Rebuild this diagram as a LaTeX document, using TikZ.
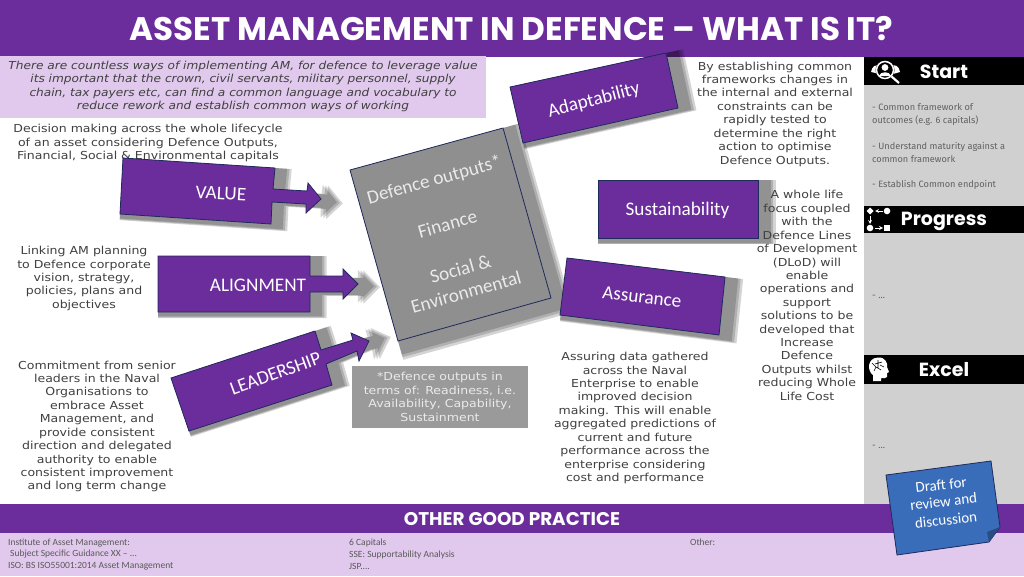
\documentclass[tikz,border=0pt]{standalone}
\usepackage{fontspec}
\setmainfont{DejaVu Sans}[FakeStretch=1.14]
\newfontfamily\handit{DejaVu Sans}[FakeStretch=1.105]
\newfontfamily\labelfont{Carlito}
\newfontfamily\headfont{Poppins}
\newfontfamily\sidefont{Fira Sans}
\usetikzlibrary{calc}
\definecolor{purp}{HTML}{6B2D9C}
\definecolor{lilac}{HTML}{E0C9EC}
\definecolor{panel}{HTML}{D0D0D0}
\definecolor{edge}{HTML}{1F2A5C}
\definecolor{hand}{HTML}{404040}
\definecolor{greybox}{HTML}{8F8F8F}
\definecolor{notebox}{HTML}{9A9A9A}
\definecolor{soft}{HTML}{EAEAEA}
\definecolor{draft}{HTML}{3A6DB9}
\tikzset{
  handtext/.style={text=hand,align=center,inner sep=0pt,font=\fontsize{11}{13.42}\selectfont},
  shapebox/.style={fill=purp,draw=edge,line width=0.8pt,line join=miter},
  greyshape/.style={fill=greybox,draw=edge,line width=0.8pt},
  biglabel/.style={text=white,inner sep=0pt,font=\labelfont\fontsize{19.2}{22}\selectfont},
  greylabel/.style={text=soft,inner sep=0pt,font=\labelfont\fontsize{19.2}{23}\selectfont},
  sidehead/.style={text=white,inner sep=0pt,font=\headfont\bfseries\fontsize{19}{21}\selectfont},
  sidetext/.style={text=black!62,inner sep=0pt,anchor=base west,font=\sidefont\fontsize{9.2}{12}\selectfont},
  foot/.style={text=black!65,inner sep=0pt,anchor=west,font=\labelfont\fontsize{9.5}{11}\selectfont},
  shadowfill/.style={fill=black,opacity=.17,draw=none},
  icon/.style={fill=white,draw=none},
  iconline/.style={draw=white,line width=1.2pt},
}
% soft shadow: the shape enlarged from its own top-left point
\newcommand{\softshadow}[3]{%
  \foreach \k in {1.08,1.095,1.11}{%
    \begin{scope}[shift={(#1,#2)},scale=\k,shift={(-#1,-#2)}]
      \fill[shadowfill] #3;
    \end{scope}}}
\def\valuepath{(123,158) -- (275,168) -- (273,189) -- (307,191) -- (308,183) -- (321,199) -- (306,213) -- (306,204) -- (272,202) -- (271,224) -- (120,214) -- cycle}
\def\alignpath{(158,256) -- (310,256) -- (310,276) -- (343,276) -- (343,269) -- (358,284) -- (343,299) -- (343,292) -- (310,292) -- (310,312) -- (158,312) -- cycle}
\def\leadpath{(171,378) -- (315,331) -- (321,350) -- (353,340) -- (351,333) -- (369,341) -- (359,361) -- (357,351) -- (326,364) -- (332,385) -- (189,431) -- cycle}
\def\outpath{(350,170) -- (503,128) -- (551,298) -- (398,341) -- cycle}
\def\adaptpath{(510,87) -- (666,53) -- (678,108) -- (523,143) -- cycle}
\def\sustpath{(598,180) -- (758,180) -- (758,238) -- (598,238) -- cycle}
\def\assurepath{(567,258) -- (725,277) -- (719,335) -- (560,315) -- cycle}
\begin{document}
\begin{tikzpicture}[x=1pt,y=-1pt]
\useasboundingbox (0,0) rectangle (1024,576);
\fill[white] (0,0) rectangle (1024,576);
% bands and panels
\fill[panel] (864,56) rectangle (1024,504);
\fill[purp] (0,0) rectangle (1024,56.5);
\fill[lilac] (0,56) rectangle (486,118);
\fill[purp] (0,504) rectangle (1024,533);
\fill[lilac] (0,533) rectangle (1024,576);
\fill[black] (864,57) rectangle (1024,85);
\fill[black] (864,206) rectangle (1024,233);
\fill[black] (864,355) rectangle (1024,384);
% title
\node[text=white,inner sep=0pt,font=\headfont\bfseries\fontsize{32.6}{34}\selectfont] (title) at (511.5,28.5) {ASSET MANAGEMENT IN DEFENCE – WHAT IS IT?};
\node[text=white,inner sep=0pt,font=\headfont\bfseries\fontsize{18.4}{20}\selectfont] (other) at (512,519.5) {OTHER GOOD PRACTICE};
% texts under the shapes
\node[handtext,font=\handit\itshape\fontsize{11}{13.42}\selectfont] (intro) at (243,86.5) {There are countless ways of implementing AM, for defence to leverage value\\its important that the crown, civil servants, military personnel, supply\\chain, tax payers etc, can find a common language and vocabulary to\\reduce rework and establish common ways of working};
\node[handtext] (decision) at (148,143) {Decision making across the whole lifecycle\\of an asset considering Defence Outputs,\\Financial, Social \& Environmental capitals};
\node[handtext] (linking) at (84,278.5) {Linking AM planning\\to Defence corporate\\vision, strategy,\\policies, plans and\\objectives};
\node[handtext] (commit) at (97,426.5) {Commitment from senior\\leaders in the Naval\\Organisations to\\embrace Asset\\Management, and\\provide consistent\\direction and delegated\\authority to enable\\consistent improvement\\and long term change};
\node[handtext] (frameworks) at (775,114) {By establishing common\\frameworks changes in\\the internal and external\\constraints can be\\rapidly tested to\\determine the right\\action to optimise\\Defence Outputs.};
\node[handtext] (assuring) at (635,418) {Assuring data gathered\\across the Naval\\Enterprise to enable\\improved decision\\making. This will enable\\aggregated predictions of\\current and future\\performance across the\\enterprise considering\\cost and performance};
% shadows and shapes
\softshadow{123}{158}{\valuepath}
\softshadow{158}{256}{\alignpath}
\softshadow{171}{378}{\leadpath}
\softshadow{350}{170}{\outpath}
\softshadow{510}{87}{\adaptpath}
\softshadow{598}{180}{\sustpath}
\softshadow{560}{258}{\assurepath}
\draw[shapebox] \valuepath;
\draw[shapebox] \alignpath;
\draw[shapebox] \leadpath;
\draw[greyshape] \outpath;
\draw[shapebox] \adaptpath;
\draw[shapebox] \sustpath;
\draw[shapebox] \assurepath;
\node[biglabel,rotate=-3] (value) at (221,193.5) {VALUE};
\node[biglabel] (alignment) at (258,285.5) {ALIGNMENT};
\node[biglabel,rotate=20] (leadership) at (275.5,373.5) {LEADERSHIP};
\node[biglabel,rotate=14.5] (adapt) at (594,100.5) {Adaptability};
\node[biglabel] (sust) at (677.5,210) {Sustainability};
\node[biglabel,rotate=-7] (assure) at (642,297) {Assurance};
\node[greylabel,rotate=15.5] (d1) at (434.5,180.5) {Defence outputs*};
\node[greylabel,rotate=15.5] (d2) at (447.5,224) {Finance};
\node[greylabel,rotate=15.5] (d3) at (460.5,269) {Social \&};
\node[greylabel,rotate=15.5] (d4) at (466,292) {Environmental};
% note
\fill[notebox] (352,366) rectangle (528,428);
\node[handtext,text=soft] (note) at (440,397) {*Defence outputs in\\terms of: Readiness, i.e.\\Availability, Capability,\\Sustainment};
\node[handtext] (whole) at (807,295.5) {A whole life\\focus coupled\\with the\\Defence Lines\\of Development\\(DLoD) will\\enable\\operations and\\support\\solutions to be\\developed that\\Increase\\Defence\\Outputs whilst\\reducing Whole\\Life Cost};
% side panel
\node[sidehead] (start) at (944,71.5) {Start};
\node[sidehead] (progress) at (944,221.5) {Progress};
\node[sidehead] (excel) at (944,370) {Excel};
\node[sidetext] (s1) at (872,110.5) {- Common framework of};
\node[sidetext] (s2) at (872,123.5) {outcomes (e.g. 6 capitals)};
\node[sidetext] (s3) at (872,149) {- Understand maturity against a};
\node[sidetext] (s4) at (872,162) {common framework};
\node[sidetext] (s5) at (872,187.5) {- Establish Common endpoint};
\node[sidetext] (s6) at (872,298) {- ...};
\node[sidetext] (s7) at (872,448) {- ...};
% start icon
\fill[icon] (871,72) .. controls (872,66) and (876,64) .. (880,66) -- (880,74) -- cycle;
\fill[icon] (900,72) .. controls (899,66) and (895,64) .. (891,66) -- (893,74) -- cycle;
\fill[black] (885,70) circle (9.5);
\draw[iconline,line width=1.5pt] (885,70) circle (8.5);
\fill[icon] (885,67.5) circle (3.4);
\fill[icon] (879,76) .. controls (880,71) and (890,71) .. (891,76) -- cycle;
\draw[iconline,line width=2.2pt] (891.5,76.5) -- (899,83);
% progress icon
\fill[icon] (870,207.5) -- (873.5,211) -- (870,214.5) -- (866.5,211) -- cycle;
\fill[icon] (887,211) circle (3.3);
\fill[icon] (870,228) circle (3.3);
\fill[icon] (884,225) rectangle (890,231);
\draw[iconline,line width=.8pt,->,>=stealth] (883,211) -- (875,211);
\draw[iconline,line width=.8pt,->,>=stealth] (870,216) -- (870,224);
\draw[iconline,line width=.8pt,->,>=stealth] (875,228) -- (883,228);
% excel icon
\fill[icon] (873,381) -- (873,375) .. controls (867,371) and (867,358) .. (878,357.5) .. controls (885,357) and (888,363) .. (887,367) -- (889,372) -- (887,373) -- (887,377) .. controls (886,379) and (883,378) .. (881,378) -- (881,381) -- cycle;
\draw[black,line width=.6pt] (872,363) -- (876,367) -- (874,371) (878,360) -- (878,368) (875,364) -- (882,362) (876,367) -- (881,370) (880,365) -- (884,367);
% draft note
\draw[fill=draft,draw=edge,line width=.8pt] (886,475) -- (991,461) -- (1000,527) -- (989,542) -- (897,555) -- cycle;
\fill[draft!70!black] (1000,527) -- (989,542) -- (987,532) -- cycle;
\node[text=white,inner sep=0pt,rotate=6.5,font=\labelfont\fontsize{15}{18}\selectfont] (d5) at (941,485) {Draft for};
\node[text=white,inner sep=0pt,rotate=6.5,font=\labelfont\fontsize{15}{18}\selectfont] (d6) at (943.5,501.5) {review and};
\node[text=white,inner sep=0pt,rotate=6.5,font=\labelfont\fontsize{15}{18}\selectfont] (d7) at (946,520) {discussion};
% footer
\node[foot] (f1) at (8,543) {Institute of Asset Management:};
\node[foot] (f2) at (10,554.5) {Subject Specific Guidance XX – ...};
\node[foot] (f3) at (8,566) {ISO: BS ISO55001:2014 Asset Management};
\node[foot] (f4) at (349,543) {6 Capitals};
\node[foot] (f5) at (349,554.5) {SSE: Supportability Analysis};
\node[foot] (f6) at (349,566) {JSP....};
\node[foot] (f7) at (690,542.5) {Other:};
\end{tikzpicture}
\end{document}
